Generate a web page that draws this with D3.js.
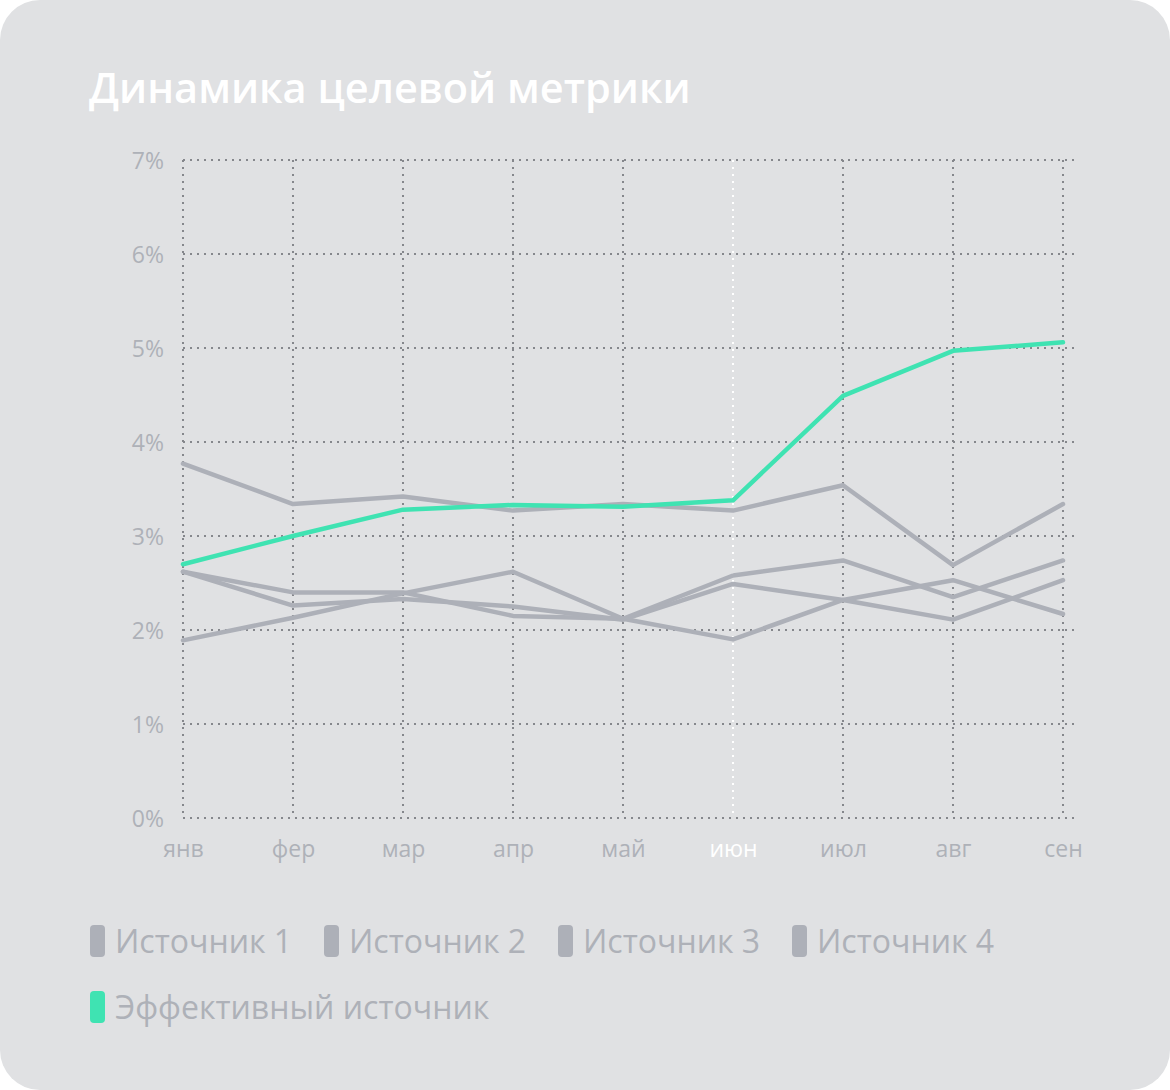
<!DOCTYPE html>
<html>
<head>
<meta charset="utf-8">
<script src="https://cdn.jsdelivr.net/npm/d3@7"></script>
<style>
  html, body { margin: 0; padding: 0; background: #ffffff; }
  svg { display: block; }
  text { font-family: "Open Sans", "Noto Sans", sans-serif; }
</style>
</head>
<body>
<svg id="chart" width="1170" height="1090"></svg>
<script>
const title = "Динамика целевой метрики";
const months = ["янв", "фер", "мар", "апр", "май", "июн", "июл", "авг", "сен"];
const highlightMonth = "июн";
const yTickValues = [0, 1, 2, 3, 4, 5, 6, 7];

const source1 = [3.77, 3.34, 3.42, 3.27, 3.34, 3.27, 3.54, 2.69, 3.34];
const source2 = [2.62, 2.40, 2.40, 2.15, 2.12, 2.58, 2.74, 2.35, 2.74];
const source3 = [2.62, 2.26, 2.33, 2.25, 2.11, 2.49, 2.32, 2.53, 2.17];
const source4 = [1.89, 2.13, 2.39, 2.62, 2.12, 1.90, 2.32, 2.11, 2.53];
const effective = [2.70, 3.00, 3.28, 3.33, 3.31, 3.38, 4.49, 4.97, 5.06];

const seriesNames = ["Источник 1", "Источник 2", "Источник 3", "Источник 4", "Эффективный источник"];
const seriesValues = [source1, source2, source3, source4, effective];

const GRAY = "#adb0b8";
const GREEN = "#3fe3b2";
const LABEL = "#aeb1b8";
const GRID = "#85878c";
const colors = [GRAY, GRAY, GRAY, GRAY, GREEN];

const svg = d3.select("#chart");
svg.append("rect").attr("x", 0).attr("y", 0).attr("width", 1170).attr("height", 1090)
  .attr("rx", 40).attr("ry", 40).attr("fill", "#e0e1e3");

svg.append("text").attr("x", 89).attr("y", 103)
  .attr("fill", "#ffffff").attr("font-size", 41.5).attr("font-weight", 600)
  .text(title);

const x = d3.scalePoint().domain(months).range([183, 1063]);
const y = d3.scaleLinear().domain([0, 7]).range([818, 160]);

const grid = svg.append("g");
// horizontal grid
grid.selectAll(".h").data(yTickValues).join("line")
  .attr("x1", 183).attr("x2", 1079)
  .attr("y1", d => y(d)).attr("y2", d => y(d))
  .attr("stroke", GRID).attr("stroke-width", 2).attr("stroke-dasharray", "2,5");
// vertical grid
grid.selectAll(".v").data(months).join("line")
  .attr("x1", d => x(d)).attr("x2", d => x(d))
  .attr("y1", y(7)).attr("y2", y(0))
  .attr("stroke", d => d === highlightMonth ? "#ffffff" : GRID)
  .attr("stroke-width", 2).attr("stroke-dasharray", "2,5");

// y axis labels
const yAxis = d3.axisLeft(y).tickValues(yTickValues).tickFormat(d => d + "%").tickSize(0).tickPadding(19);
const gy = svg.append("g").attr("transform", "translate(183,0)").call(yAxis);
gy.select(".domain").remove();
gy.selectAll("text").attr("fill", LABEL).attr("font-size", 23)
  .attr("font-family", "'Open Sans', sans-serif").attr("dy", "0.36em");

// x axis labels
const xAxis = d3.axisBottom(x).tickSize(0).tickPadding(23);
const gx = svg.append("g").attr("transform", "translate(0,818)").call(xAxis);
gx.select(".domain").remove();
gx.selectAll("text").attr("fill", d => d === highlightMonth ? "#ffffff" : LABEL)
  .attr("font-size", 23).attr("font-family", "'Open Sans', sans-serif");

// lines
const line = d3.line().x((d, i) => x(months[i])).y(d => y(d));
svg.append("g").selectAll("path").data(seriesValues).join("path")
  .attr("d", d => line(d))
  .attr("fill", "none")
  .attr("stroke", (d, i) => colors[i])
  .attr("stroke-width", 4.5)
  .attr("stroke-linejoin", "round")
  .attr("stroke-linecap", "round");

// legend
const legendPos = [[90, 941], [324, 941], [558, 941], [792, 941], [90, 1007]];
const lg = svg.append("g").selectAll("g").data(seriesNames).join("g")
  .attr("transform", (d, i) => `translate(${legendPos[i][0]},${legendPos[i][1]})`);
lg.append("rect").attr("x", 0).attr("y", -16).attr("width", 15).attr("height", 32)
  .attr("rx", 4).attr("fill", (d, i) => colors[i]);
lg.append("text").attr("x", 25).attr("y", 11.5).attr("fill", LABEL)
  .attr("font-size", 32).text(d => d);
</script>
</body>
</html>
